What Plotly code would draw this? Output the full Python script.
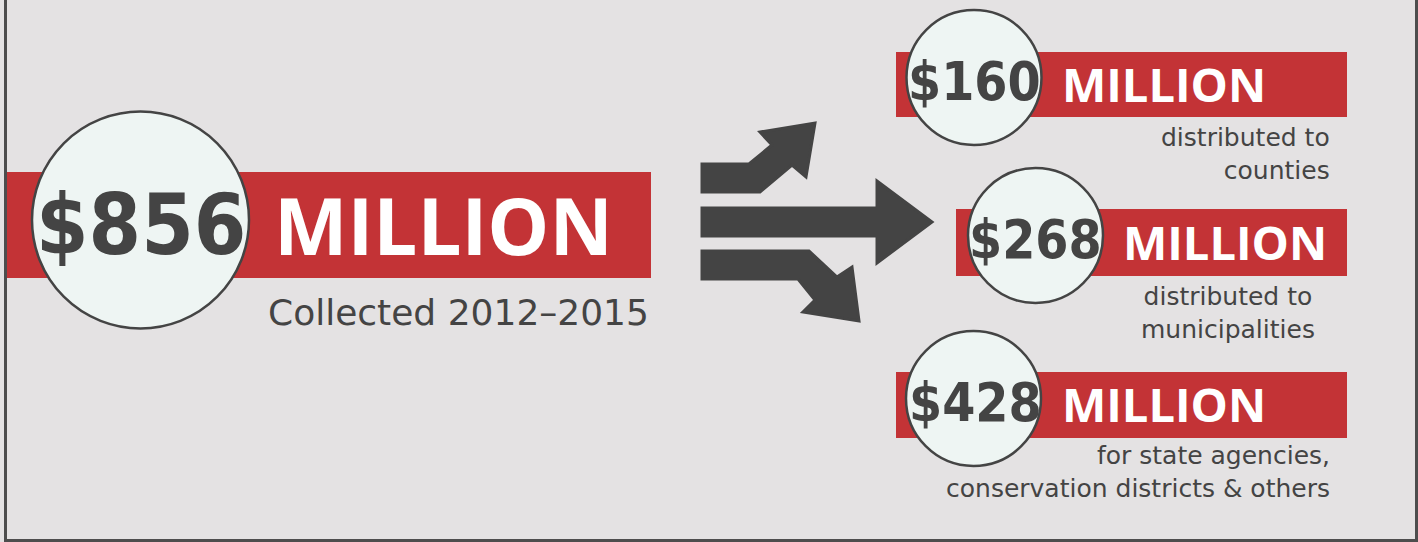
import plotly.graph_objects as go

# ---------------- data ----------------
total_amount = 856
total_caption = "Collected 2012\u20132015"
split_amounts = [160, 268, 428]
unit_label = "MILLION"
split_descriptions = [
    ["distributed to", "counties"],
    ["distributed to", "municipalities"],
    ["for state agencies,", "conservation districts & others"],
]

# ---------------- styles / layout ----------------
W, H = 1418, 542
BG = "#E4E2E3"
RED = "#C33336"
DARK = "#444444"
CIRCLE_FILL = "#EEF5F3"
NUM_FONT = "DejaVu Sans Condensed, sans-serif"
BOLD_FONT = "Open Sans, Noto Sans, sans-serif"
TEXT_FONT = "DejaVu Sans, sans-serif"

main_block = dict(bar=(6, 651, 172, 278), circle=(140.5, 220, 108.5),
                  num_xy=(140.5, 225), num_size=84,
                  unit_xy=(443, 225), unit_size=78,
                  cap_xy=(651, 312), cap_size=36)

split_blocks = [
    dict(bar=(896, 1347, 52, 117), circle=(974, 77.5, 67.5),
         num_xy=(974.5, 81), unit_xy=(1164, 84),
         desc_x=1332, desc_anchor="right", desc_y=154),
    dict(bar=(956, 1347, 209, 276), circle=(1035.5, 235.5, 67.5),
         num_xy=(1035, 239), unit_xy=(1225, 242),
         desc_x=1228, desc_anchor="center", desc_y=313),
    dict(bar=(896, 1347, 372, 438), circle=(973.5, 398.5, 67.5),
         num_xy=(975.5, 402), unit_xy=(1164, 404),
         desc_x=1332, desc_anchor="right", desc_y=472),
]
SPLIT_NUM_SIZE = 53
SPLIT_UNIT_SIZE = 47
DESC_SIZE = 25

arrow_paths = [
    "M702,164 L749,164 L772,145 L760,132 L815,123 L806,177 L792,165 L760,192 L702,192 Z",
    "M702,208 L877,208 L877,181 L932,222 L877,263 L877,236 L702,236 Z",
    "M702,251 L809,251 L837,277 L852,267 L859,321 L803,312 L815,300 L798,279 L702,279 Z",
]

shapes = []
annotations = []


def add_block(bar, circle, num_text, num_xy, num_size, unit_xy, unit_size):
    x0, x1, y0, y1 = bar
    shapes.append(dict(type="rect", xref="x", yref="y", x0=x0, x1=x1, y0=y0, y1=y1,
                       fillcolor=RED, line=dict(width=0), layer="above"))
    cx, cy, r = circle
    shapes.append(dict(type="circle", xref="x", yref="y", x0=cx - r, x1=cx + r,
                       y0=cy - r, y1=cy + r, fillcolor=CIRCLE_FILL,
                       line=dict(color=DARK, width=2.5), layer="above"))
    annotations.append(dict(x=num_xy[0], y=num_xy[1], xref="x", yref="y",
                            text=num_text, showarrow=False, xanchor="center", yanchor="middle",
                            font=dict(family=NUM_FONT, size=num_size, color=DARK, weight="bold")))
    annotations.append(dict(x=unit_xy[0], y=unit_xy[1], xref="x", yref="y",
                            text=unit_label, showarrow=False, xanchor="center", yanchor="middle",
                            font=dict(family=BOLD_FONT, size=unit_size, color="white", weight="bold")))


add_block(main_block["bar"], main_block["circle"], f"${total_amount}",
          main_block["num_xy"], main_block["num_size"],
          main_block["unit_xy"], main_block["unit_size"])
annotations.append(dict(x=main_block["cap_xy"][0], y=main_block["cap_xy"][1], xref="x", yref="y",
                        text=total_caption, showarrow=False, xanchor="right", yanchor="middle",
                        font=dict(family=TEXT_FONT, size=main_block["cap_size"], color=DARK)))

for amt, desc, blk in zip(split_amounts, split_descriptions, split_blocks):
    add_block(blk["bar"], blk["circle"], f"${amt}", blk["num_xy"], SPLIT_NUM_SIZE,
              blk["unit_xy"], SPLIT_UNIT_SIZE)
    annotations.append(dict(x=blk["desc_x"], y=blk["desc_y"], xref="x", yref="y",
                            text="<br>".join(desc), align=blk["desc_anchor"],
                            showarrow=False, xanchor=blk["desc_anchor"], yanchor="middle",
                            font=dict(family=TEXT_FONT, size=DESC_SIZE, color=DARK)))

for p in arrow_paths:
    shapes.append(dict(type="path", xref="x", yref="y", path=p, fillcolor=DARK,
                       line=dict(color=DARK, width=3), layer="above"))

# frame lines (left, right, bottom)
frame = "#4D4D4D"
shapes.append(dict(type="line", xref="x", yref="y", x0=5.5, x1=5.5, y0=-5, y1=542,
                   line=dict(color=frame, width=3), layer="above"))
shapes.append(dict(type="line", xref="x", yref="y", x0=1416.5, x1=1416.5, y0=-5, y1=542,
                   line=dict(color=frame, width=3), layer="above"))
shapes.append(dict(type="line", xref="x", yref="y", x0=4, x1=1418, y0=540.5, y1=540.5,
                   line=dict(color=frame, width=3), layer="above"))

fig = go.Figure(go.Scatter(x=[0], y=[0], mode="markers", marker=dict(opacity=0),
                           hoverinfo="skip", showlegend=False))
fig.update_layout(
    width=W, height=H, margin=dict(l=0, r=0, t=0, b=0),
    paper_bgcolor=BG, plot_bgcolor=BG,
    xaxis=dict(range=[0, W], visible=False, fixedrange=True),
    yaxis=dict(range=[H, 0], visible=False, fixedrange=True),
    shapes=shapes, annotations=annotations, showlegend=False,
)
fig.write_html("out.html", config={"displayModeBar": False},
               post_script="document.body.style.margin='0';document.body.style.overflow='hidden';")
